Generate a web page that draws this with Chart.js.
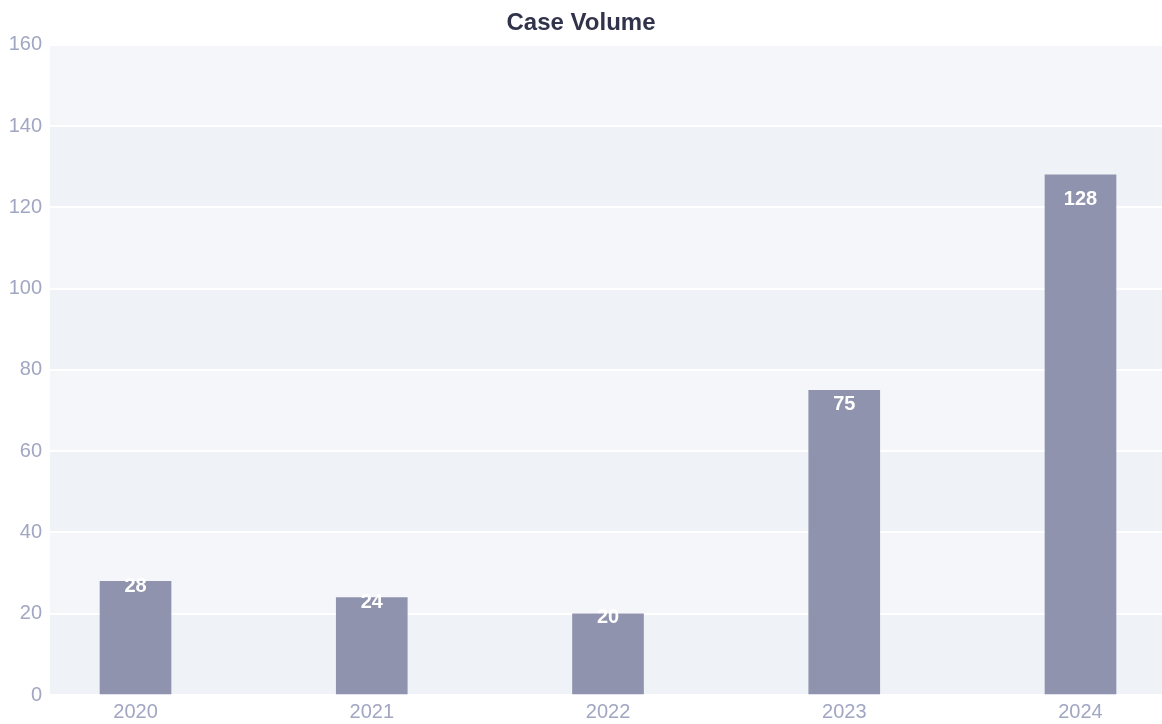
<!DOCTYPE html>
<html>
<head>
<meta charset="utf-8">
<script src="https://cdn.jsdelivr.net/npm/chart.js@4/dist/chart.umd.min.js"></script>
<style>
  html, body { margin: 0; padding: 0; background: #ffffff; }
  #chart { display: block; }
</style>
</head>
<body>
<canvas id="chart" width="1162" height="724"></canvas>
<script>
// Chart data
const years = ["2020", "2021", "2022", "2023", "2024"];
const caseCounts = [28, 24, 20, 75, 128];
const yTicks = [0, 20, 40, 60, 80, 100, 120, 140, 160];

const FONT = "'Liberation Sans', Arial, sans-serif";

// Alternating horizontal bands behind the bars
const bandPlugin = {
    id: "bands",
    beforeDraw(chart) {
        const { ctx, chartArea, scales } = chart;
        const y = scales.y;
        ctx.save();
        for (let i = 0; i < yTicks.length - 1; i++) {
            const top = y.getPixelForValue(yTicks[i + 1]);
            const bottom = y.getPixelForValue(yTicks[i]);
            ctx.fillStyle = i % 2 === 0 ? "#eff2f7" : "#f5f6fa";
            ctx.fillRect(chartArea.left, top, chartArea.right - chartArea.left, bottom - top);
        }
        ctx.restore();
    }
};

// White value labels just inside the top of each bar
const valueLabelPlugin = {
    id: "valueLabels",
    afterDatasetsDraw(chart) {
        const { ctx } = chart;
        const meta = chart.getDatasetMeta(0);
        ctx.save();
        ctx.font = "bold 20px " + FONT;
        ctx.fillStyle = "#ffffff";
        ctx.textAlign = "center";
        ctx.textBaseline = "middle";
        meta.data.forEach((bar, i) => {
            const h = bar.base - bar.y;
            ctx.fillText(String(caseCounts[i]), bar.x, bar.y + h * 0.048);
        });
        ctx.restore();
    }
};

const ctx = document.getElementById("chart").getContext("2d");
new Chart(ctx, {
    type: "bar",
    data: {
        datasets: [{
            data: caseCounts.map((v, i) => ({ x: i, y: v })),
            backgroundColor: "#8f93ae",
            borderWidth: 0,
            barThickness: 71
        }]
    },
    options: {
        responsive: false,
        animation: false,
        layout: { padding: { left: 0, right: 0, top: 0, bottom: 0 } },
        plugins: {
            legend: { display: false },
            tooltip: { enabled: false },
            title: {
                display: true,
                text: "Case Volume",
                color: "#30334a",
                font: { family: FONT, size: 24, weight: "bold" },
                padding: { top: 9, bottom: 7 }
            }
        },
        scales: {
            x: {
                type: "linear",
                offset: false,
                min: -0.362,
                max: 4.345,
                afterBuildTicks: s => { s.ticks = years.map((_, i) => ({ value: i })); },
                afterFit: s => { s.height = 29; },
                grid: { display: false, drawTicks: false },
                border: { display: false },
                ticks: {
                    callback: v => years[v] ?? "",
                    color: "#a1a6c2",
                    font: { family: FONT, size: 20 },
                    padding: 5,
                    maxRotation: 0
                }
            },
            y: {
                min: 0,
                max: 160,
                afterBuildTicks: s => { s.ticks = yTicks.map(v => ({ value: v })); },
                afterFit: s => { s.width = 50; },
                grid: { color: "#ffffff", lineWidth: 2, drawTicks: false },
                border: { display: false },
                ticks: {
                    color: "#a1a6c2",
                    font: { family: FONT, size: 20 },
                    padding: 8
                }
            }
        }
    },
    plugins: [bandPlugin, valueLabelPlugin]
});
</script>
</body>
</html>
